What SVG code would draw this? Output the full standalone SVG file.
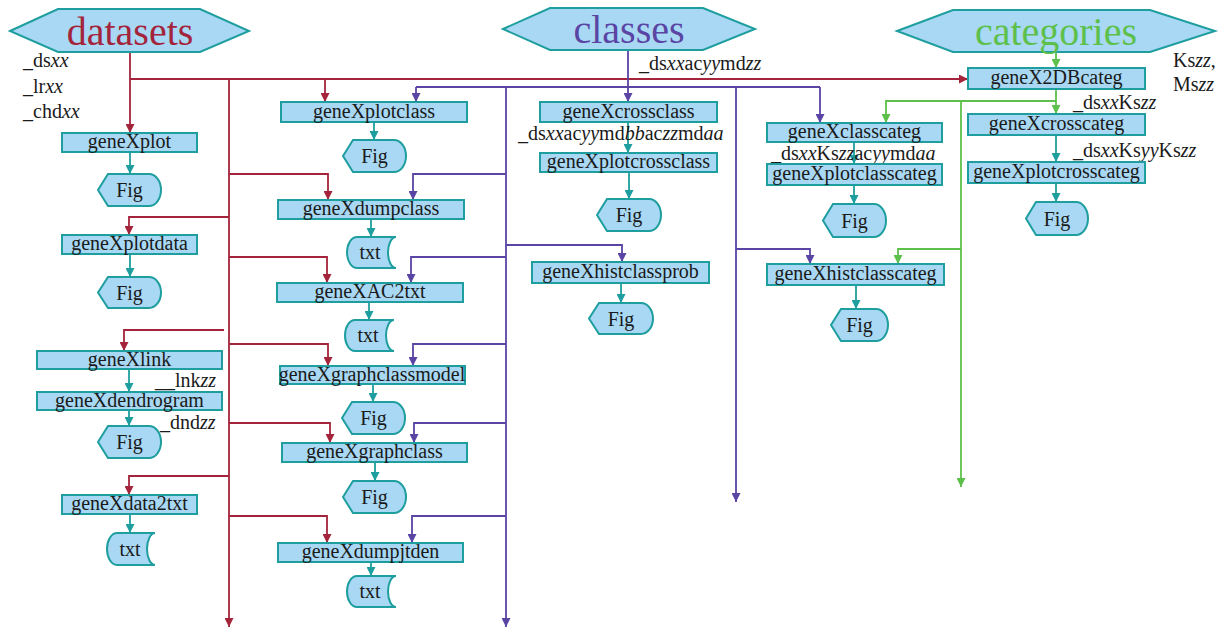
<svg xmlns="http://www.w3.org/2000/svg" width="1222" height="629" viewBox="0 0 1222 629">
<style>
text{font-family:"Liberation Serif","DejaVu Serif",serif;fill:#1a1a1a}
.n{font-size:20px;text-anchor:middle}
.l{font-size:20px}
.i{font-style:italic}
.box{fill:#a8d8f3;stroke:#1e9e9e;stroke-width:2}
.hx{fill:#a8d8f3;stroke:#1e9e9e;stroke-width:2}
.big{font-size:40px;text-anchor:middle}
.r{stroke:#a3243b;stroke-width:1.8;fill:none}
.p{stroke:#5a44a4;stroke-width:1.8;fill:none}
.g{stroke:#5dc04a;stroke-width:1.8;fill:none}
.t{stroke:#1e9e9e;stroke-width:1.8;fill:none}
</style>
<defs>
<marker id="ar" viewBox="0 0 10 10" refX="10" refY="5" markerWidth="9" markerHeight="9" markerUnits="userSpaceOnUse" orient="auto"><path d="M0,0L10,5L0,10z" fill="#a3243b"/></marker>
<marker id="ap" viewBox="0 0 10 10" refX="10" refY="5" markerWidth="9" markerHeight="9" markerUnits="userSpaceOnUse" orient="auto"><path d="M0,0L10,5L0,10z" fill="#5a44a4"/></marker>
<marker id="ag" viewBox="0 0 10 10" refX="10" refY="5" markerWidth="9" markerHeight="9" markerUnits="userSpaceOnUse" orient="auto"><path d="M0,0L10,5L0,10z" fill="#5dc04a"/></marker>
<marker id="at" viewBox="0 0 10 10" refX="10" refY="5" markerWidth="9" markerHeight="9" markerUnits="userSpaceOnUse" orient="auto"><path d="M0,0L10,5L0,10z" fill="#1e9e9e"/></marker>
</defs>

<g id="connectors">
<g marker-end="url(#ar)">
<path class="r" d="M130,52V133"/>
<path class="r" d="M130,79H968"/>
<path class="r" d="M325,79V102"/>
<path class="r" d="M229,79V627"/>
<path class="r" d="M229,174H328V200"/>
<path class="r" d="M229,217H129V235"/>
<path class="r" d="M229,257H327V283"/>
<path class="r" d="M224,330H124V351"/>
<path class="r" d="M229,344H328V366"/>
<path class="r" d="M229,423H330V443"/>
<path class="r" d="M229,476H129V495"/>
<path class="r" d="M229,516H327V543"/>
</g>
<path class="p" d="M416,87H820"/>
<g marker-end="url(#ap)">
<path class="p" d="M628,50V102"/>
<path class="p" d="M416,87V102"/>
<path class="p" d="M820,87V123"/>
<path class="p" d="M506,87V627"/>
<path class="p" d="M736,87V502"/>
<path class="p" d="M506,174H413V200"/>
<path class="p" d="M506,245H622V262"/>
<path class="p" d="M506,257H411V283"/>
<path class="p" d="M506,344H413V366"/>
<path class="p" d="M506,423H414V443"/>
<path class="p" d="M506,516H412V543"/>
<path class="p" d="M736,249H810V264"/>
</g>
<g marker-end="url(#ag)">
<path class="g" d="M1056,52V68"/>
<path class="g" d="M1056,89V114"/>
<path class="g" d="M1056,101H886V123"/>
<path class="g" d="M961,101V487"/>
<path class="g" d="M961,249H898V264"/>
</g>
<g marker-end="url(#at)">
<path class="t" d="M130,152V174"/>
<path class="t" d="M130,254V277"/>
<path class="t" d="M129,369V392"/>
<path class="t" d="M129,410V426"/>
<path class="t" d="M130,514V533"/>
<path class="t" d="M374,122V140"/>
<path class="t" d="M371,219V237"/>
<path class="t" d="M369,302V320"/>
<path class="t" d="M373,384V402"/>
<path class="t" d="M375,462V481"/>
<path class="t" d="M371,562V576"/>
<path class="t" d="M628,122V153"/>
<path class="t" d="M629,172V199"/>
<path class="t" d="M621,283V303"/>
<path class="t" d="M854,142V164"/>
<path class="t" d="M854,185V204"/>
<path class="t" d="M856,285V309"/>
<path class="t" d="M1056,135V162"/>
<path class="t" d="M1056,183V202"/>
</g>
</g>

<g id="datasets"><path class="hx" d="M10,31L58,9H200L249,31L200,52H58Z"/><text class="big" x="130" y="45" style="fill:#a3243b">datasets</text></g>
<g id="classes"><path class="hx" d="M503,29L550,8H703L755,29L703,50H550Z"/><text class="big" x="629" y="43" style="fill:#5a44a4">classes</text></g>
<g id="categories"><path class="hx" d="M897,31L953,10H1150L1215,31L1150,52H953Z"/><text class="big" x="1056" y="45" style="fill:#5dc04a">categories</text></g>

<g id="labels">
<text class="l" x="23" y="67">_ds<tspan class="i">xx</tspan></text>
<text class="l" x="23" y="93">_lr<tspan class="i">xx</tspan></text>
<text class="l" x="23" y="118">_chd<tspan class="i">xx</tspan></text>
<text class="l" x="639" y="70">_ds<tspan class="i">xx</tspan>ac<tspan class="i">yy</tspan>md<tspan class="i">zz</tspan></text>
<text class="l" x="518" y="140">_ds<tspan class="i">xx</tspan>ac<tspan class="i">yy</tspan>md<tspan class="i">bb</tspan>ac<tspan class="i">zz</tspan>md<tspan class="i">aa</tspan></text>
<text class="l" x="771" y="160">_ds<tspan class="i">xx</tspan>Ks<tspan class="i">zz</tspan>ac<tspan class="i">yy</tspan>md<tspan class="i">aa</tspan></text>
<text class="l" x="1073" y="109">_ds<tspan class="i">xx</tspan>Ks<tspan class="i">zz</tspan></text>
<text class="l" x="1073" y="157">_ds<tspan class="i">xx</tspan>Ks<tspan class="i">yy</tspan>Ks<tspan class="i">zz</tspan></text>
<text class="l" x="1173" y="67">Ks<tspan class="i">zz</tspan>,</text>
<text class="l" x="1173" y="91">Ms<tspan class="i">zz</tspan></text>
<text class="l" x="155" y="387">__lnk<tspan class="i">zz</tspan></text>
<text class="l" x="160" y="429">_dnd<tspan class="i">zz</tspan></text>
</g>

<g id="geneXplot"><rect class="box" x="62" y="133" width="135" height="19"/><text class="n" x="129.5" y="148">geneXplot</text></g>
<g id="geneXplotdata"><rect class="box" x="62" y="235" width="135" height="19"/><text class="n" x="129.5" y="250">geneXplotdata</text></g>
<g id="geneXlink"><rect class="box" x="37" y="351" width="185" height="18"/><text class="n" x="129.5" y="366">geneXlink</text></g>
<g id="geneXdendrogram"><rect class="box" x="37" y="392" width="185" height="18"/><text class="n" x="129.5" y="407">geneXdendrogram</text></g>
<g id="geneXdata2txt"><rect class="box" x="62" y="495" width="135" height="19"/><text class="n" x="129.5" y="510">geneXdata2txt</text></g>
<g id="geneXplotclass"><rect class="box" x="281" y="102" width="186" height="20"/><text class="n" x="374" y="118">geneXplotclass</text></g>
<g id="geneXdumpclass"><rect class="box" x="278" y="200" width="186" height="19"/><text class="n" x="371" y="215">geneXdumpclass</text></g>
<g id="geneXAC2txt"><rect class="box" x="277" y="283" width="186" height="19"/><text class="n" x="370" y="298">geneXAC2txt</text></g>
<g id="geneXgraphclassmodel"><rect class="box" x="280" y="366" width="185" height="18"/><text class="n" x="372" y="381">geneXgraphclassmodel</text></g>
<g id="geneXgraphclass"><rect class="box" x="282" y="443" width="185" height="19"/><text class="n" x="374.5" y="458">geneXgraphclass</text></g>
<g id="geneXdumpjtden"><rect class="box" x="278" y="543" width="185" height="19"/><text class="n" x="370.5" y="558">geneXdumpjtden</text></g>
<g id="geneXcrossclass"><rect class="box" x="540" y="102" width="177" height="20"/><text class="n" x="628.5" y="118">geneXcrossclass</text></g>
<g id="geneXplotcrossclass"><rect class="box" x="540" y="153" width="177" height="19"/><text class="n" x="628.5" y="168">geneXplotcrossclass</text></g>
<g id="geneXhistclassprob"><rect class="box" x="532" y="262" width="177" height="21"/><text class="n" x="620.5" y="278">geneXhistclassprob</text></g>
<g id="geneXclasscateg"><rect class="box" x="767" y="123" width="175" height="19"/><text class="n" x="854.5" y="138">geneXclasscateg</text></g>
<g id="geneXplotclasscateg"><rect class="box" x="767" y="164" width="175" height="21"/><text class="n" x="854.5" y="180">geneXplotclasscateg</text></g>
<g id="geneXhistclasscateg"><rect class="box" x="767" y="264" width="177" height="21"/><text class="n" x="855.5" y="280">geneXhistclasscateg</text></g>
<g id="geneX2DBcateg"><rect class="box" x="968" y="68" width="177" height="21"/><text class="n" x="1056.5" y="84">geneX2DBcateg</text></g>
<g id="geneXcrosscateg"><rect class="box" x="968" y="114" width="177" height="21"/><text class="n" x="1056.5" y="130">geneXcrosscateg</text></g>
<g id="geneXplotcrosscateg"><rect class="box" x="968" y="162" width="177" height="21"/><text class="n" x="1056.5" y="178">geneXplotcrosscateg</text></g>

<g id="fig1"><path class="box" d="M98,190L108,174H149A12,16 0 0 1 149,206H108Z"/><text class="n" x="129.5" y="197">Fig</text></g>
<g id="fig2"><path class="box" d="M98,292.5L108,277H149A12,15.5 0 0 1 149,308H108Z"/><text class="n" x="129.5" y="300">Fig</text></g>
<g id="fig3"><path class="box" d="M98,442L108,426H149A12,16 0 0 1 149,458H108Z"/><text class="n" x="129.5" y="449">Fig</text></g>
<g id="fig4"><path class="box" d="M343,156L353,140H394A12,16 0 0 1 394,172H353Z"/><text class="n" x="374.5" y="163">Fig</text></g>
<g id="fig5"><path class="box" d="M342,418L352,402H393A12,16 0 0 1 393,434H352Z"/><text class="n" x="373.5" y="425">Fig</text></g>
<g id="fig6"><path class="box" d="M343,497L353,481H394A12,16 0 0 1 394,513H353Z"/><text class="n" x="374.5" y="504">Fig</text></g>
<g id="fig7"><path class="box" d="M597,215L607,199H649A12,16 0 0 1 649,231H607Z"/><text class="n" x="629" y="222">Fig</text></g>
<g id="fig8"><path class="box" d="M589,318.5L599,303H641A12,15.5 0 0 1 641,334H599Z"/><text class="n" x="621" y="326">Fig</text></g>
<g id="fig9"><path class="box" d="M823,220.5L833,204H874A12,16.5 0 0 1 874,237H833Z"/><text class="n" x="854.5" y="228">Fig</text></g>
<g id="fig10"><path class="box" d="M831,325L841,309H876A12,16 0 0 1 876,341H841Z"/><text class="n" x="859.5" y="332">Fig</text></g>
<g id="fig11"><path class="box" d="M1026,218.5L1036,202H1076A12,16.5 0 0 1 1076,235H1036Z"/><text class="n" x="1057" y="226">Fig</text></g>

<g id="txt1"><path class="box" d="M117,533H155A8,16 0 0 0 155,565H117A10,16 0 0 1 117,533Z"/><text class="n" x="130" y="556">txt</text></g>
<g id="txt2"><path class="box" d="M357,237H396A8,15.5 0 0 0 396,268H357A10,15.5 0 0 1 357,237Z"/><text class="n" x="370" y="259">txt</text></g>
<g id="txt3"><path class="box" d="M355,320H394A8,15.5 0 0 0 394,351H355A10,15.5 0 0 1 355,320Z"/><text class="n" x="368" y="342">txt</text></g>
<g id="txt4"><path class="box" d="M357,576H396A8,15.5 0 0 0 396,607H357A10,15.5 0 0 1 357,576Z"/><text class="n" x="370" y="598">txt</text></g>
</svg>
